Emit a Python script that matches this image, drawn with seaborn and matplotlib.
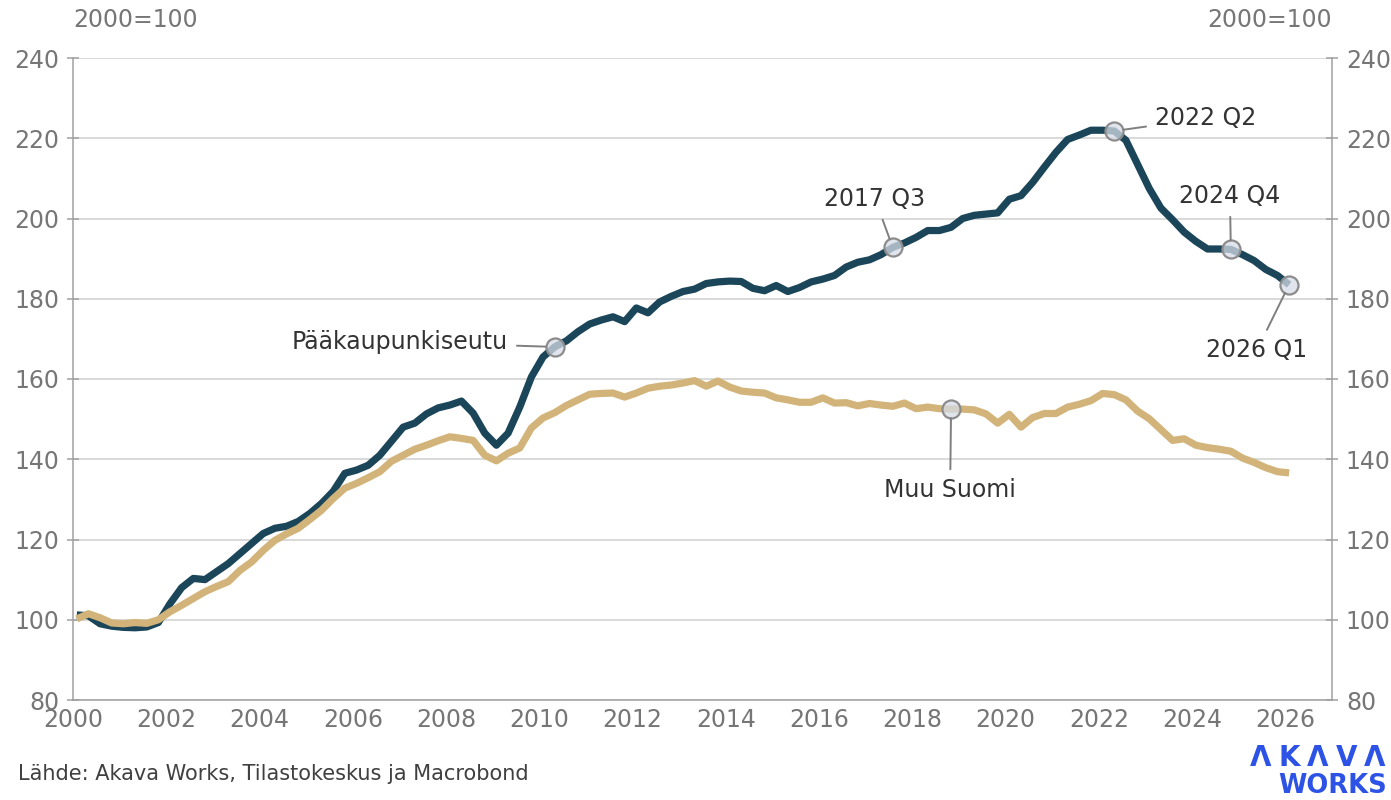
import matplotlib
matplotlib.use("Agg")
import matplotlib.pyplot as plt
import pandas as pd
import seaborn as sns

# Asuntojen hintaindeksi, 2000=100, neljännesvuosittain 2000Q1-2026Q1
quarters = pd.period_range("2000Q1", "2026Q1", freq="Q")

capital = [
    101.2, 101.0, 99.0, 98.4, 98.1, 98.0, 98.2, 99.3, 104.0, 108.0,
    110.3, 110.0, 112.0, 114.0, 116.5, 119.0, 121.5, 122.8, 123.3, 124.5,
    126.5, 129.0, 132.0, 136.5, 137.3, 138.5, 141.0, 144.5, 148.0, 149.0,
    151.3, 152.8, 153.5, 154.5, 151.5, 146.5, 143.5, 146.5, 153.0, 160.5,
    165.5, 168.0, 169.5, 171.8, 173.7, 174.7, 175.5, 174.3, 177.7, 176.5,
    179.2, 180.6, 181.8, 182.4, 183.8, 184.2, 184.4, 184.3, 182.6, 182.0,
    183.3, 181.8, 182.8, 184.2, 184.9, 185.8, 187.9, 189.1, 189.7, 191.0,
    192.8, 193.9, 195.3, 197.0, 197.0, 197.8, 200.0, 200.8, 201.1, 201.4,
    204.8, 205.7, 209.0, 212.8, 216.5, 219.7, 220.8, 222.0, 222.0, 221.8,
    219.5, 213.5, 207.5, 202.6, 199.7, 196.6, 194.3, 192.4, 192.4, 192.3,
    191.0, 189.5, 187.3, 185.8, 183.5,
]

rest = [
    100.2, 101.5, 100.5, 99.2, 99.0, 99.3, 99.1, 100.0, 102.0, 103.6,
    105.3, 107.0, 108.3, 109.5, 112.3, 114.4, 117.3, 119.8, 121.4, 122.8,
    125.0, 127.3, 130.2, 132.8, 134.0, 135.4, 136.9, 139.5, 141.0, 142.5,
    143.5, 144.6, 145.6, 145.2, 144.7, 141.0, 139.6, 141.5, 142.8, 147.8,
    150.3, 151.6, 153.4, 154.8, 156.2, 156.4, 156.5, 155.5, 156.5, 157.7,
    158.2, 158.5, 159.0, 159.6, 158.2, 159.5, 158.0, 157.0, 156.7, 156.5,
    155.3, 154.8, 154.2, 154.2, 155.3, 154.0, 154.1, 153.3, 153.9, 153.5,
    153.2, 154.0, 152.6, 153.0, 152.6, 152.5, 152.5, 152.3, 151.3, 149.0,
    151.2, 148.0, 150.4, 151.4, 151.4, 153.0, 153.7, 154.6, 156.4, 156.1,
    154.8, 152.0, 150.1, 147.4, 144.7, 145.1, 143.5, 142.9, 142.5, 142.0,
    140.3, 139.2, 137.9, 136.9, 136.6,
]

series_names = ["Pääkaupunkiseutu", "Muu Suomi"]
colors = ["#1b4558", "#d2b47a"]
y_ticks = [80, 100, 120, 140, 160, 180, 200, 220, 240]
x_ticks = list(range(2000, 2027, 2))

# (teksti, sarja, neljännes, tekstin x, tekstin y, tasaus)
labels = [
    ("Pääkaupunkiseutu", "Pääkaupunkiseutu", "2010Q2", 2009.33, 169.2, "right"),
    ("2017 Q3", "Pääkaupunkiseutu", "2017Q3", 2017.2, 204.8, "center"),
    ("2022 Q2", "Pääkaupunkiseutu", "2022Q2", 2023.2, 225.0, "left"),
    ("2024 Q4", "Pääkaupunkiseutu", "2024Q4", 2024.81, 205.6, "center"),
    ("2026 Q1", "Pääkaupunkiseutu", "2026Q1", 2025.39, 167.2, "center"),
    ("Muu Suomi", "Muu Suomi", "2018Q4", 2018.81, 132.3, "center"),
]

x = quarters.year + (quarters.quarter - 1) / 4 + 0.08
df = pd.concat([
    pd.DataFrame({"x": x, "value": capital, "alue": series_names[0], "q": quarters.astype(str)}),
    pd.DataFrame({"x": x, "value": rest, "alue": series_names[1], "q": quarters.astype(str)}),
])

sns.set_style("white")
plt.rcParams["font.family"] = ["DejaVu Sans"]
tick_color = "#767676"
text_color = "#333333"
axis_color = "#a0a0a0"

fig = plt.figure(figsize=(13.91, 8.0), dpi=100)
ax = fig.add_axes([0.0525, 0.125, 0.9051, 0.8025])

sns.lineplot(data=df, x="x", y="value", hue="alue", hue_order=series_names,
             palette=colors, linewidth=5.2, legend=False, ax=ax,
             solid_capstyle="butt")

ax.set_xlim(2000, 2027)
ax.set_ylim(80, 240)
ax.set_xticks(x_ticks)
ax.set_yticks(y_ticks)
ax.set_xlabel("")
ax.set_ylabel("")
ax.grid(axis="y", color="#d0d0d0", linewidth=1.1)
ax.set_axisbelow(True)
ax.tick_params(axis="both", labelsize=17, colors=axis_color, labelcolor=tick_color,
               direction="inout", length=8, width=1.1)
ax.tick_params(axis="x", pad=2)
ax.tick_params(axis="y", pad=6)
for side in ["left", "bottom"]:
    ax.spines[side].set_color(axis_color)
    ax.spines[side].set_linewidth(1.1)
ax.spines["top"].set_visible(False)
ax.spines["right"].set_visible(False)

ax2 = ax.twinx()
ax2.set_ylim(80, 240)
ax2.set_yticks(y_ticks)
ax2.tick_params(axis="y", labelsize=17, colors=axis_color, labelcolor=tick_color,
                direction="inout", length=8, width=1.1, pad=6)
for side in ["left", "top", "bottom"]:
    ax2.spines[side].set_visible(False)
ax2.spines["right"].set_color(axis_color)
ax2.spines["right"].set_linewidth(1.1)

for text, name, q, tx, ty, ha in labels:
    row = df[(df["alue"] == name) & (df["q"] == q)].iloc[0]
    ax.plot(row["x"], row["value"], "o", markersize=13,
            markerfacecolor=(0.84, 0.86, 0.90, 0.75), markeredgecolor="#8c8c8c",
            markeredgewidth=1.6, zorder=5)
    ax.annotate(text, xy=(row["x"], row["value"]), xytext=(tx, ty),
                ha=ha, va="center", fontsize=17, color=text_color,
                arrowprops=dict(arrowstyle="-", color="#7f7f7f", lw=1.4,
                                shrinkA=4, shrinkB=6.5),
                zorder=6)

fig.text(0.0525, 0.975, "2000=100", fontsize=17, color=tick_color, ha="left", va="center")
fig.text(0.9576, 0.975, "2000=100", fontsize=17, color=tick_color, ha="right", va="center")
fig.text(0.013, 0.033, "Lähde: Akava Works, Tilastokeskus ja Macrobond",
         fontsize=15, color="#404040", ha="left", va="center")

logo_blue = "#2d52e6"
for k, ch in enumerate("ΛKΛVΛ"):
    fig.text((1261 + k * 28.5) / 1391, 0.052, ch, fontsize=20, fontweight="bold",
             color=logo_blue, ha="center", va="center")
fig.text(0.997, 0.018, "WORKS", fontsize=18.5, fontweight="bold", color=logo_blue,
         ha="right", va="center")

plt.savefig("out.png", dpi=100)
